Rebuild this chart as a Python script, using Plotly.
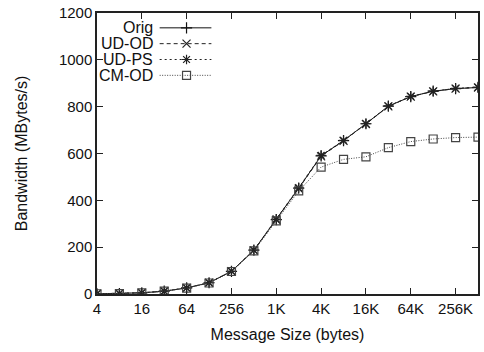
import plotly.graph_objects as go

sizes = [2 ** k for k in range(2, 20)]
tick_vals = [4, 16, 64, 256, 1024, 4096, 16384, 65536, 262144]
tick_text = ["4", "16", "64", "256", "1K", "4K", "16K", "64K", "256K"]

orig = [1, 2, 5, 12, 26, 48, 97, 187, 318, 452, 590, 655, 727, 802, 843, 866, 877, 882]
ud_od = [1, 2, 5, 12, 26, 48, 97, 186, 317, 450, 588, 654, 726, 801, 843, 865, 877, 882]
ud_ps = [1, 2, 5, 12, 26, 48, 97, 188, 320, 454, 592, 656, 727, 803, 844, 866, 878, 883]
cm_od = [1, 2, 5, 12, 25, 47, 96, 184, 312, 440, 542, 575, 586, 625, 651, 662, 668, 670]

series_names = ["Orig", "UD-OD", "UD-PS", "CM-OD"]
series_vals = [orig, ud_od, ud_ps, cm_od]
symbols = ["cross-thin-open", "x-thin-open", "asterisk-open", "square-open"]
dashes = ["solid", "4px,3px", "2px,3px", "1px,1.5px"]
colors = ["#111111", "#222222", "#222222", "#444444"]

FONT = "Liberation Sans, Arial, sans-serif"

fig = go.Figure()
for name, vals, sym, dash, col in zip(series_names, series_vals, symbols, dashes, colors):
    fig.add_trace(go.Scatter(
        x=sizes, y=vals, name=name, mode="lines+markers",
        line=dict(color=col, width=1, dash=dash),
        marker=dict(symbol=sym, size=8, color=col, line=dict(color=col, width=1.2)),
        showlegend=False,
    ))

# manual legend (text left, sample right) on an overlay axis in pixel-like units
legend_rows = [25, 41, 57, 73]
for name, sym, dash, col, yrow in zip(series_names, symbols, dashes, colors, legend_rows):
    fig.add_trace(go.Scatter(
        x=[160, 212], y=[yrow, yrow], mode="lines", xaxis="x2", yaxis="y2",
        line=dict(color=col, width=1, dash=dash), showlegend=False, hoverinfo="skip",
    ))
    fig.add_trace(go.Scatter(
        x=[187], y=[yrow], mode="markers", xaxis="x2", yaxis="y2",
        marker=dict(symbol=sym, size=8, color=col, line=dict(color=col, width=1.2)),
        showlegend=False, hoverinfo="skip",
    ))
    fig.add_annotation(x=155, y=yrow, xref="x2", yref="y2", text=name, showarrow=False,
                       xanchor="right", yanchor="middle",
                       font=dict(family=FONT, size=16, color="#111111"))

axis_line = dict(showline=True, linecolor="#222222", linewidth=1.5, mirror="ticks",
                 ticks="inside", ticklen=6, tickcolor="#222222", tickwidth=1,
                 showgrid=False, zeroline=False)

fig.update_layout(
    width=484, height=352,
    margin=dict(l=97, r=4, t=10, b=58),
    paper_bgcolor="white", plot_bgcolor="white",
    font=dict(family=FONT, size=15, color="#111111"),
    xaxis=dict(type="log", range=[0.60206, 5.71960], tickvals=tick_vals, ticktext=tick_text,
               title=dict(text="Message Size (bytes)", font=dict(size=16), standoff=13),
               tickfont=dict(size=15), **axis_line),
    yaxis=dict(range=[0, 1200], tickvals=[0, 200, 400, 600, 800, 1000, 1200],
               title=dict(text="Bandwidth (MBytes/s)", font=dict(size=16), standoff=27),
               tickfont=dict(size=15), **axis_line),
    xaxis2=dict(overlaying="x", range=[97, 480], visible=False, fixedrange=True),
    yaxis2=dict(overlaying="y", range=[294, 10], visible=False, fixedrange=True),
)

fig.write_html("out.html")
